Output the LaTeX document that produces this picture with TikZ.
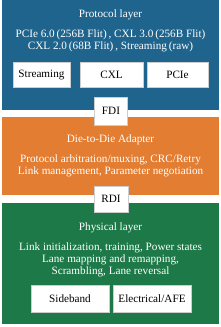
\documentclass[tikz,border=0pt]{standalone}
\usepackage{fontspec}
\setmainfont{Liberation Serif}
\usetikzlibrary{positioning}
\usepackage{xcolor}
\definecolor{protoblue}{RGB}{31,100,141}
\definecolor{adaptorange}{RGB}{226,125,50}
\definecolor{physgreen}{RGB}{29,121,72}
\definecolor{boxgray}{RGB}{205,205,205}

\begin{document}
\begin{tikzpicture}[x=1pt,y=-1pt,font=\fontsize{11.2}{12}\selectfont,
  layer/.style={inner sep=0pt,anchor=north west},
  wbox/.style={draw=boxgray,line width=1pt,fill=white,inner sep=0pt,minimum height=25pt},
  txt/.style={text=white,align=center}]
\useasboundingbox (0,0) rectangle (221,327);
% layers
\node[layer,fill=protoblue,minimum width=217pt,minimum height=110pt] (proto) at (2,0) {};
\node[layer,fill=adaptorange,minimum width=217pt,minimum height=78pt] (adapt) at (2,117) {};
\node[layer,fill=physgreen,minimum width=217pt,minimum height=121pt] (phys) at (2,203) {};
% protocol layer
\node[txt] (prototitle) at (110.5,15) {Protocol layer};
\node[txt] (protodesc) at (110.5,41) {PCIe 6.0\,(256B Flit)\,, CXL 3.0\,(256B Flit)\\CXL 2.0\,(68B Flit)\,, Streaming\,(raw)};
\node[wbox,minimum width=57pt] (stream) at (41.5,75) {Streaming};
\node[wbox,minimum width=63pt] (cxl) at (111.5,75) {CXL};
\node[wbox,minimum width=61pt] (pcie) at (177.5,75) {PCIe};
% adapter
\node[txt] (adapttitle) at (110.5,140) {Die-to-Die Adapter};
\node[txt] (adaptdesc) at (110.5,166) {Protocol arbitration/muxing, CRC/Retry\\Link management, Parameter negotiation};
% physical layer
\node[txt] (phystitle) at (110.5,228) {Physical layer};
\node[txt] (physdesc) at (110.5,259.5) {Link initialization, training, Power states\\Lane mapping and remapping,\\Scrambling, Lane reversal};
\node[wbox,minimum width=78pt,minimum height=27pt] (side) at (70,298.5) {Sideband};
\node[wbox,minimum width=78pt,minimum height=27pt] (afe) at (152,298.5) {Electrical/AFE};
% interfaces
\node[wbox,minimum width=33pt,minimum height=28pt] (fdi) at (111,111) {FDI};
\node[wbox,minimum width=34pt,minimum height=26pt] (rdi) at (111,199) {RDI};
\end{tikzpicture}
\end{document}
